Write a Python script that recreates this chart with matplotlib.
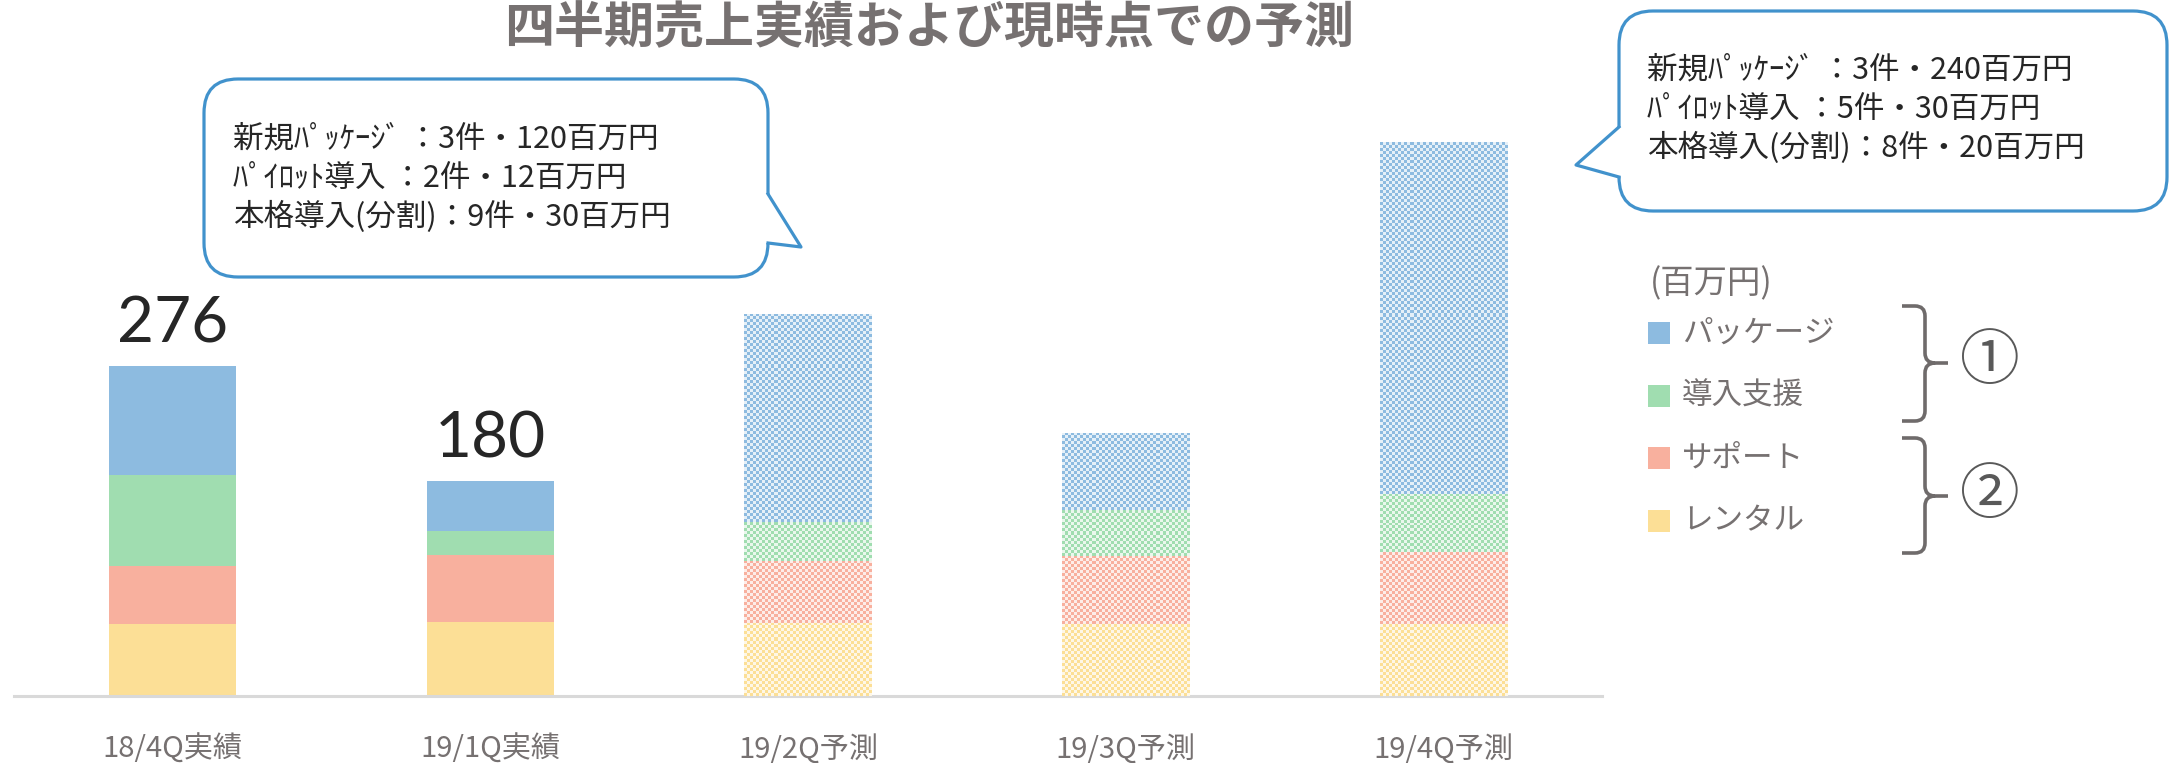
import numpy as np
import matplotlib
matplotlib.use('Agg')
import matplotlib.pyplot as plt
import matplotlib.colors as mcolors
from matplotlib.patches import FancyBboxPatch, Polygon, Rectangle, PathPatch
from matplotlib.path import Path
from matplotlib.lines import Line2D
from matplotlib.transforms import Affine2D

plt.rcParams['font.family'] = ['Noto Sans CJK JP', 'DejaVu Sans']

title = '四半期売上実績および現時点での予測'
categories = ['18/4Q実績', '19/1Q実績', '19/2Q予測', '19/3Q予測', '19/4Q予測']
n_actual = 2  # the first two quarters are actuals, the rest forecasts

# stacked from the bottom up (百万円)
rental = [60, 62, 61, 60, 60]
support = [49, 56, 52, 57, 60]
onboarding = [76, 20, 32, 38, 49]
package = [91, 42, 174, 65, 294]
series = [rental, support, onboarding, package]
series_names = ['レンタル', 'サポート', '導入支援', 'パッケージ']
colors = ['#FCDF96', '#F8B09E', '#A0DDB0', '#8DBBE0']

unit_label = '(百万円)'
callout_q2 = ['新規ﾊﾟｯｹｰｼﾞ ：3件・120百万円',
              'ﾊﾟｲﾛｯﾄ導入 ：2件・12百万円',
              '本格導入(分割)：9件・30百万円']
callout_q4 = ['新規ﾊﾟｯｹｰｼﾞ ：3件・240百万円',
              'ﾊﾟｲﾛｯﾄ導入 ：5件・30百万円',
              '本格導入(分割)：8件・20百万円']

gray = '#767171'
dark = '#262626'
blue_line = '#4192CC'

W, H = 2170, 763
fig = plt.figure(figsize=(W / 100, H / 100), dpi=100)
# helper transform: image pixels, origin top-left
pix = Affine2D().scale(1 / W, -1 / H).translate(0, 1) + fig.transFigure

ax = fig.add_axes([14 / W, 67 / H, 1588 / W, 596 / H])
ax.set_xlim(-0.5, 4.5)
ax.set_ylim(0, 498)
ax.set_autoscale_on(False)


def dither(bar, col, cell=3):
    x0, y0, w, h = bar.get_x(), bar.get_y(), bar.get_width(), bar.get_height()
    p0 = ax.transData.transform((x0, y0))
    p1 = ax.transData.transform((x0 + w, y0 + h))
    nx = max(1, round(abs(p1[0] - p0[0]) / cell))
    ny = max(1, round(abs(p1[1] - p0[1]) / cell))
    yy, xx = np.indices((ny, nx))
    rgb = np.array(mcolors.to_rgb(col))
    pale = 1 - (1 - rgb) * 0.22
    img = np.where(((xx + yy) % 2 == 0)[..., None], rgb, pale)
    im = ax.imshow(img, extent=(x0, x0 + w, y0, y0 + h), origin='lower',
                   interpolation='nearest', aspect='auto', zorder=3)
    im.set_clip_path(bar)


x = np.arange(len(categories))
bottom = np.zeros(len(categories))
for vals, col in zip(series, colors):
    bars = ax.bar(x, vals, 0.4, bottom=bottom, color=col, linewidth=0, zorder=2)
    for i, b in enumerate(bars):
        if i >= n_actual:
            b.set_facecolor(1 - (1 - np.array(mcolors.to_rgb(col))) * 0.6)
            dither(b, col)
    bottom += np.array(vals)

for i in range(n_actual):
    ax.annotate(f'{int(bottom[i])}', (x[i], bottom[i]), xytext=(0, 16.5),
                textcoords='offset points', ha='center', va='baseline',
                fontsize=46, family=['Lato', 'DejaVu Sans'], color=dark)

for s in ['top', 'right', 'left']:
    ax.spines[s].set_visible(False)
ax.spines['bottom'].set_color('#D9D9D9')
ax.spines['bottom'].set_linewidth(2.2)
ax.set_yticks([])
ax.set_xticks(x, categories, fontsize=21, color=gray)
ax.tick_params(axis='x', length=0, pad=28)

fig.text(929, 29, title, ha='center', va='center', fontsize=36,
         fontweight='bold', color=gray, transform=pix)


def callout(x0, y0, x1, y1, tail, inward, lines, tx, ty):
    box = FancyBboxPatch((x0, y0), x1 - x0, y1 - y0,
                         boxstyle='round,pad=0,rounding_size=34',
                         transform=pix, facecolor='white', edgecolor=blue_line,
                         linewidth=2.3, zorder=5)
    fig.add_artist(box)
    (bx1, by1), tip, (bx2, by2) = tail
    poly = Polygon([(bx1 + inward, by1), (bx1, by1), tip, (bx2, by2), (bx2 + inward, by2)],
                   closed=True, transform=pix, facecolor='white', edgecolor='none', zorder=6)
    fig.add_artist(poly)
    fig.add_artist(Line2D([bx1, tip[0], bx2], [by1, tip[1], by2], transform=pix,
                          color=blue_line, linewidth=2.3, zorder=7))
    for k, s in enumerate(lines):
        fig.text(tx, ty + k * 39, s, ha='left', va='center', fontsize=22,
                 color=dark, transform=pix, zorder=8)


callout(204, 79, 768, 277, [(768, 194), (801, 247), (768, 243)], -7,
        callout_q2, 233, 139)
callout(1619, 11, 2167, 211, [(1619, 127), (1576, 165), (1619, 177)], 7,
        callout_q4, 1647, 70)

# legend
fig.text(1650, 284, unit_label, ha='left', va='center', fontsize=24,
         color=gray, transform=pix)
legend_y = [333, 396, 458, 521]
for name, col, yy in zip(series_names[::-1], colors[::-1], legend_y):
    fig.add_artist(Rectangle((1648, yy - 11), 22, 22, transform=pix,
                             facecolor=col, edgecolor='none'))
    fig.text(1682, yy, name, ha='left', va='center', fontsize=22,
             color=gray, transform=pix)


def brace(top, mid, bot, xl=1902, xv=1925, xt=1948, r=10):
    verts = [(xl, top), (xv - r, top), (xv, top), (xv, top + r),
             (xv, mid - r), (xv, mid), (xv + r, mid), (xt, mid),
             (xv + r, mid), (xv, mid), (xv, mid + r),
             (xv, bot - r), (xv, bot), (xv - r, bot), (xl, bot)]
    codes = [Path.MOVETO, Path.LINETO, Path.CURVE3, Path.CURVE3,
             Path.LINETO, Path.CURVE3, Path.CURVE3, Path.LINETO,
             Path.MOVETO, Path.CURVE3, Path.CURVE3,
             Path.LINETO, Path.CURVE3, Path.CURVE3, Path.LINETO]
    fig.add_artist(PathPatch(Path(verts, codes), transform=pix, facecolor='none',
                             edgecolor='#6F6B6B', linewidth=2.6, capstyle='butt'))


brace(306, 363, 421)
brace(438, 496, 553)
fig.text(1990, 363, '①', ha='center', va='center', fontsize=43, color='#595959', transform=pix)
fig.text(1990, 496, '②', ha='center', va='center', fontsize=43, color='#595959', transform=pix)

fig.savefig('out.png', dpi=100)
